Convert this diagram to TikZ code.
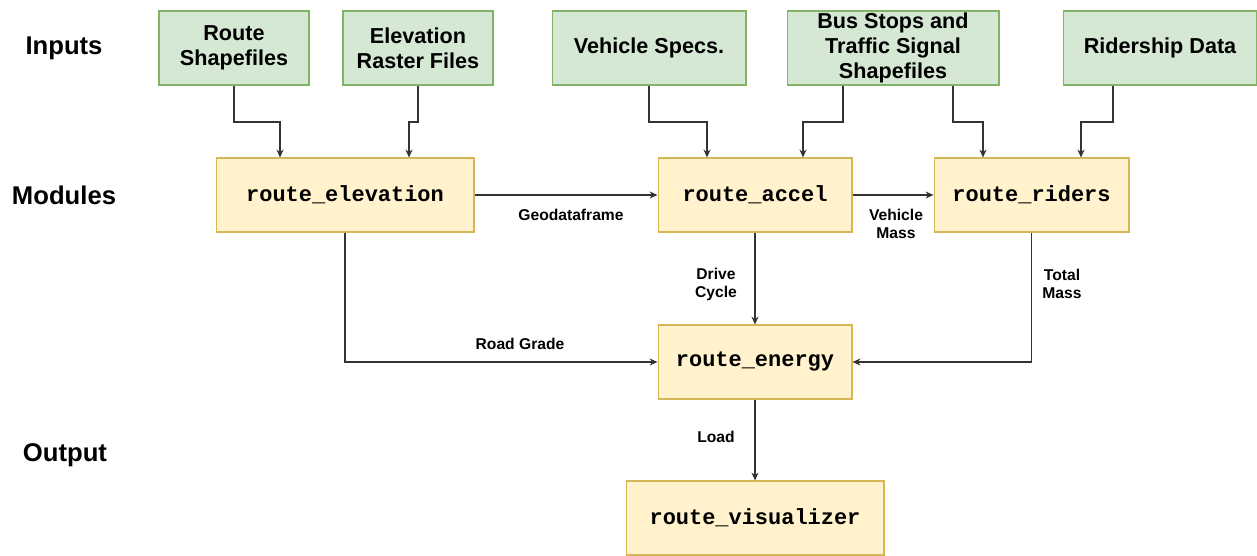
\documentclass[tikz,border=0pt]{standalone}
\usepackage{fontspec}
\setmainfont{Liberation Sans}
\newfontfamily\codefont{Liberation Mono}
\usepackage{xcolor}
\usetikzlibrary{arrows.meta}

\definecolor{infill}{HTML}{D5E8D4}
\definecolor{inborder}{HTML}{82B366}
\definecolor{modfill}{HTML}{FFF2CC}
\definecolor{modborder}{HTML}{D6B656}
\definecolor{linegray}{HTML}{333333}

\begin{document}
\begin{tikzpicture}[x=0.02cm,y=-0.02cm,>={Stealth[length=4.5pt,width=4pt]},
  inbox/.style={draw=inborder,fill=infill,line width=0.6pt,minimum height=1.48cm,
    align=center,inner sep=1pt,font=\bfseries\fontsize{12.3}{14.3}\selectfont},
  modbox/.style={draw=modborder,fill=modfill,line width=0.6pt,minimum height=1.48cm,
    font=\codefont\bfseries\fontsize{12.5}{15}\selectfont},
  flow/.style={->,draw=linegray,line width=0.6pt},
  lab/.style={align=center,inner sep=0pt,font=\bfseries\fontsize{8.9}{10.3}\selectfont},
  tier/.style={inner sep=0pt,font=\bfseries\fontsize{14.6}{17}\selectfont}]
  \useasboundingbox (0,0) rectangle (1257,555);

  % row titles
  \node[tier] (tinputs)  at (64,48)  {Inputs};
  \node[tier] (tmodules) at (64,195) {Modules};
  \node[tier] (toutput)  at (65,455) {Output};

  % inputs
  \node[inbox,minimum width=3.0cm]  (shp)  at (234,48)    {Route\\Shapefiles};
  \node[inbox,minimum width=3.0cm]  (rast) at (418,48)    {Elevation\\Raster Files};
  \node[inbox,minimum width=3.88cm] (veh)  at (649,48)    {Vehicle Specs.};
  \node[inbox,minimum width=4.24cm] (bus)  at (893,48)    {Bus Stops and\\Traffic Signal\\Shapefiles};
  \node[inbox,minimum width=3.86cm] (rid)  at (1160,48)   {Ridership Data};

  % modules
  \node[modbox,minimum width=5.16cm] (elevm)  at (345,195)    {route\_elevation};
  \node[modbox,minimum width=3.88cm] (accel)  at (755,195)    {route\_accel};
  \node[modbox,minimum width=3.9cm]  (riders) at (1031.5,195) {route\_riders};
  \node[modbox,minimum width=3.88cm] (energy) at (755,362)    {route\_energy};
  \node[modbox,minimum width=5.16cm] (vis)    at (755,518)    {route\_visualizer};

  % inputs to modules
  \coordinate (bend) at (0,122);
  \draw[flow] (shp.south) -- (shp.south |- bend) -| ([xshift=-1.3cm]elevm.north);
  \draw[flow] (rast.south) -- (rast.south |- bend) -| ([xshift=1.28cm]elevm.north);
  \draw[flow] (veh.south) -- (veh.south |- bend) -| ([xshift=-0.96cm]accel.north);
  \draw[flow] ([xshift=-1.0cm]bus.south) -- ([xshift=-1.0cm]bus.south |- bend) -| ([xshift=0.96cm]accel.north);
  \draw[flow] ([xshift=1.2cm]bus.south) -- ([xshift=1.2cm]bus.south |- bend) -| ([xshift=-0.97cm]riders.north);
  \draw[flow] ([xshift=-0.94cm]rid.south) -- ([xshift=-0.94cm]rid.south |- bend) -| ([xshift=0.99cm]riders.north);

  % between modules
  \draw[flow] (elevm.east) -- (accel.west);
  \draw[flow] (accel.east) -- (riders.west);
  \draw[flow] (accel.south) -- (energy.north);
  \draw[flow] (elevm.south) |- (energy.west);
  \draw[flow] (riders.south) |- (energy.east);
  \draw[flow] (energy.south) -- (vis.north);

  \node[lab] (lgeo)   at (571,215)  {Geodataframe};
  \node[lab] (lvmass) at (896,224)  {Vehicle\\Mass};
  \node[lab] (ldrive) at (716,284)  {Drive\\Cycle};
  \node[lab] (ltmass) at (1062,284) {Total\\Mass};
  \node[lab] (lgrade) at (520,344)  {Road Grade};
  \node[lab] (lload)  at (716,437)  {Load};
\end{tikzpicture}
\end{document}
